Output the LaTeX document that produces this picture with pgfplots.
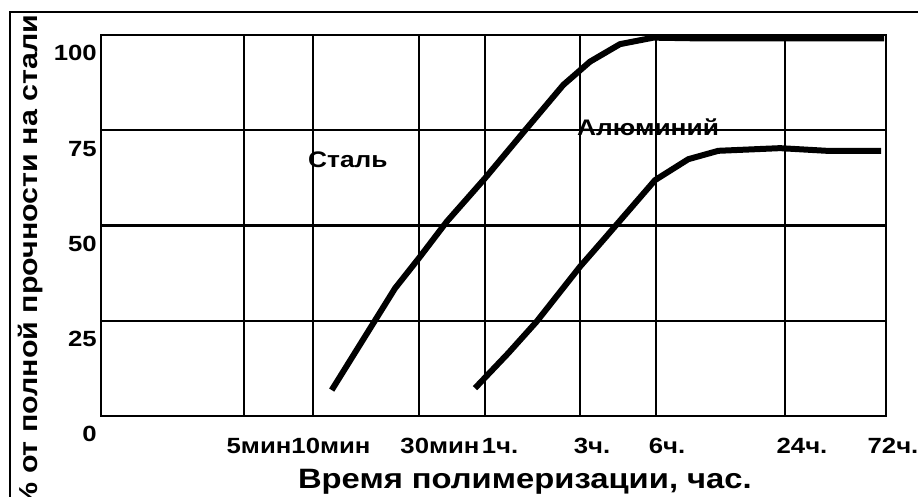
\documentclass[border=0pt]{standalone}
\usepackage{fontspec}
\setmainfont{Liberation Sans}[FakeStretch=1.17]
\usepackage{pgfplots}
\pgfplotsset{compat=1.18}
\newcommand{\tickfont}{\fontsize{22bp}{26bp}\selectfont\bfseries}
\newcommand{\annfont}{\fontsize{22.5bp}{27bp}\selectfont\bfseries}
\newcommand{\xlabfont}{\fontsize{28bp}{32bp}\selectfont\bfseries}
\newcommand{\ylabfont}{\fontsize{26bp}{30bp}\selectfont\bfseries}
\begin{document}
\begin{tikzpicture}[x=1bp,y=1bp]
\useasboundingbox (0,0) rectangle (918,497);
\clip (0,0) rectangle (918,497);
\draw[line width=2bp] (10,-5) -- (10,485) -- (930,485);
\begin{axis}[
  at={(101bp,81bp)}, anchor=south west,
  scale only axis, width=785bp, height=381bp,
  xmin=101, xmax=886, ymin=0, ymax=100,
  clip=false,
  axis line style={line width=2bp},
  xtick={244,313,419,485,580,656,785}, xticklabels={},
  ytick={25,50,75}, yticklabels={},
  grid=major, major grid style={black, line width=2.2bp},
  major tick length=0,
  /pgf/number format/assume math mode=true,
  extra x ticks={259,331,440,500,592,667,802,886},
  extra x tick labels={5мин,10мин,30мин,1ч.,3ч.,6ч.,24ч.,\hspace*{14bp}72ч.},
  extra x tick style={grid=none, major tick length=0,
    xticklabel style={anchor=base, inner sep=0pt, yshift=-38bp, font=\tickfont}},
  extra y ticks={0,25,50,75,100},
  extra y tick labels={0,25,50,75,100},
  extra y tick style={grid=none, major tick length=0,
    yticklabel style={anchor=base east, inner sep=0pt, xshift=-4bp, yshift=-26bp, font=\tickfont}},
  xlabel={Время полимеризации, час.},
  xlabel style={at={(axis description cs:0.540,-0.1916)}, anchor=base, inner sep=0pt, font=\xlabfont},
  ylabel={\% от полной прочности на стали},
  ylabel style={at={(axis description cs:-0.0815,0.404)}, anchor=base, inner sep=0pt, font=\ylabfont},
]
\addplot[black, line width=6bp, line join=round] coordinates {
  (331.7,6.8) (395,33.5) (420,41.8) (446.7,51.0) (485,62.4) (526.7,75.5)
  (563.3,86.9) (590,93.0) (620,97.6) (653.3,99.3) (700,99.1) (884,99.1)
};
\addplot[black, line width=6bp, line join=round] coordinates {
  (475,7.3) (508.3,16.5) (536.7,24.8) (580,39.2) (603.3,46.2) (655,61.9)
  (688.3,67.4) (718.3,69.6) (780,70.3) (826.7,69.6) (881,69.6)
};
\node[anchor=base west, inner sep=0pt, font=\annfont] at (axis cs:308,65.35) {Сталь};
\node[anchor=base west, inner sep=0pt, font=\annfont] at (axis cs:577,73.75) {Алюминий};
\end{axis}
\end{tikzpicture}
\end{document}
